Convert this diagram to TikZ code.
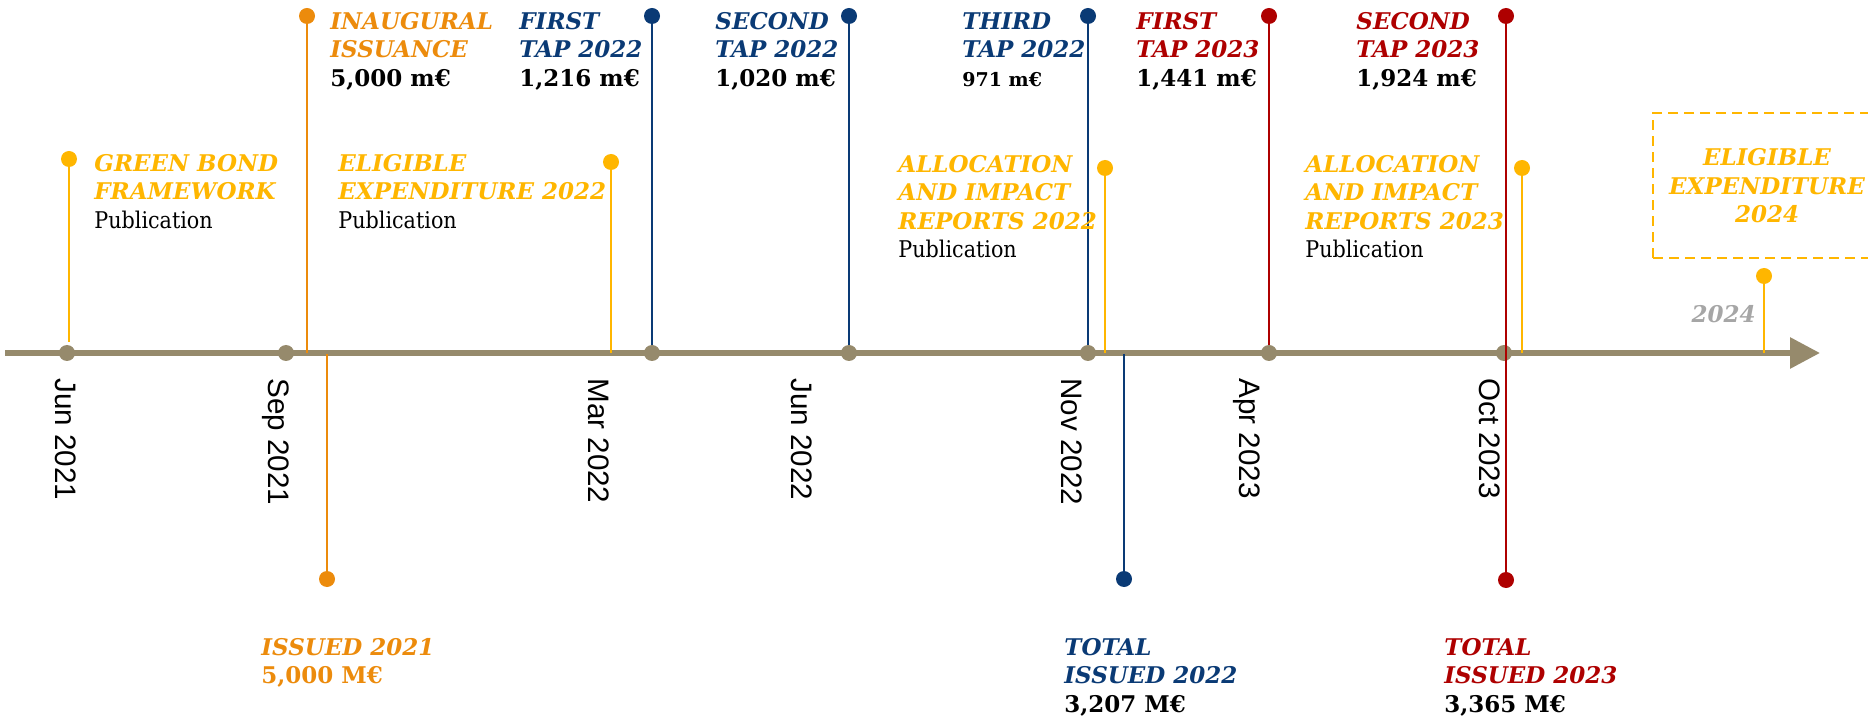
\documentclass[tikz,border=0pt]{standalone}
\usepackage{fontspec}
\setmainfont{DejaVu Serif Condensed}
\setsansfont{Liberation Sans}
\newfontfamily\ttlfont{DejaVu Serif}
\usetikzlibrary{arrows.meta}

\definecolor{axisgrey}{HTML}{968A6C}
\definecolor{gbyellow}{HTML}{FFB600}
\definecolor{gborange}{HTML}{EC8B0C}
\definecolor{gbblue}{HTML}{0A3A75}
\definecolor{gbred}{HTML}{AE0000}
\definecolor{yeargrey}{HTML}{A6A6A6}

\newcommand{\ttl}[2]{\textcolor{#1}{\ttlfont\bfseries\itshape #2}}
\newcommand{\amt}[1]{{\ttlfont\bfseries #1}}

\begin{document}
\begin{tikzpicture}[x=0.5pt,y=-0.5pt,
  axis/.style={line width=3pt, axisgrey, -{Triangle[length=15pt,width=15pt]}},
  axdot/.style={circle, fill=axisgrey, inner sep=0pt, minimum size=8pt},
  pin/.style={circle, inner sep=0pt, minimum size=8pt},
  stem/.style={line width=1.3pt},
  evtext/.style={anchor=north west, inner sep=0pt, align=left,
    font=\fontsize{11.5pt}{14.25pt}\selectfont},
  datelab/.style={rotate=-90, anchor=west, inner sep=0pt, text height=10.6pt,
    text depth=0pt, font=\sffamily\fontsize{14.8pt}{16pt}\selectfont}]
\useasboundingbox (0,0) rectangle (1868,721);
\clip (0,0) rectangle (1868,721);
% time axis
\node[axdot] (t1) at (67,353) {};
\node[axdot] (t2) at (286,353) {};
\node[axdot] (t3) at (652,353) {};
\node[axdot] (t4) at (849,353) {};
\node[axdot] (t5) at (1088,353) {};
\node[axdot] (t6) at (1269,353) {};
\node[axdot] (t7) at (1504,353) {};
\coordinate (a0) at (5,353);
\coordinate (a1) at (1820,353);
\draw[axis] (a0) -- (a1);
%
\node[datelab] (d1) at (66,378) {Jun 2021};
\node[datelab] (d2) at (279,378) {Sep 2021};
\node[datelab] (d3) at (599,378) {Mar 2022};
\node[datelab] (d4) at (802,378) {Jun 2022};
\node[datelab] (d5) at (1072,378) {Nov 2022};
\node[datelab] (d6) at (1250,378) {Apr 2023};
\node[datelab] (d7) at (1490,378) {Oct 2023};
%
% green bond framework
\node[pin, fill=gbyellow] (p1) at (69,159) {};
\coordinate (q1) at (69,342);
\draw[stem, gbyellow] (p1) -- (q1);
\node[evtext] (e1) at (94,154) {\ttl{gbyellow}{GREEN BOND}\\\ttl{gbyellow}{FRAMEWORK}\\Publication};
% inaugural issuance
\node[pin, fill=gborange] (p2) at (307,16) {};
\coordinate (q2) at (307,353);
\draw[stem, gborange] (p2) -- (q2);
\node[evtext] (e2) at (330,12) {\ttl{gborange}{INAUGURAL}\\\ttl{gborange}{ISSUANCE}\\\amt{5,000 m€}};
\coordinate (q3) at (327,354);
\node[pin, fill=gborange] (p3) at (327,579) {};
\draw[stem, gborange] (q3) -- (p3);
\node[evtext] (e3) at (261,638) {\ttl{gborange}{ISSUED 2021}\\\textcolor{gborange}{\amt{5,000 M€}}};
% eligible expenditure 2022
\node[pin, fill=gbyellow] (p4) at (611,162) {};
\coordinate (q4) at (611,353);
\draw[stem, gbyellow] (p4) -- (q4);
\node[evtext] (e4) at (338,154) {\ttl{gbyellow}{ELIGIBLE}\\\ttl{gbyellow}{EXPENDITURE 2022}\\Publication};
% taps 2022
\node[pin, fill=gbblue] (p5) at (652,16) {};
\draw[stem, gbblue] (p5) -- (t3);
\node[evtext] (e5) at (519,12) {\ttl{gbblue}{FIRST}\\\ttl{gbblue}{TAP 2022}\\\amt{1,216 m€}};
\node[pin, fill=gbblue] (p6) at (849,16) {};
\draw[stem, gbblue] (p6) -- (t4);
\node[evtext] (e6) at (715,12) {\ttl{gbblue}{SECOND}\\\ttl{gbblue}{TAP 2022}\\\amt{1,020 m€}};
\node[pin, fill=gbblue] (p7) at (1088,16) {};
\draw[stem, gbblue] (p7) -- (t5);
\node[evtext] (e7) at (962,12) {\ttl{gbblue}{THIRD}\\\ttl{gbblue}{TAP 2022}\\{\fontsize{9.5pt}{11pt}\selectfont\amt{971 m€}}};
% allocation and impact 2022
\node[pin, fill=gbyellow] (p8) at (1105,168) {};
\coordinate (q8) at (1105,353);
\draw[stem, gbyellow] (p8) -- (q8);
\node[evtext] (e8) at (898,155) {\ttl{gbyellow}{ALLOCATION}\\\ttl{gbyellow}{AND IMPACT}\\\ttl{gbyellow}{REPORTS 2022}\\Publication};
\coordinate (q9) at (1124,354);
\node[pin, fill=gbblue] (p9) at (1124,579) {};
\draw[stem, gbblue] (q9) -- (p9);
\node[evtext] (e9) at (1064,638) {\ttl{gbblue}{TOTAL}\\\ttl{gbblue}{ISSUED 2022}\\\amt{3,207 M€}};
% taps 2023
\node[pin, fill=gbred] (p10) at (1269,16) {};
\draw[stem, gbred] (p10) -- (t6);
\node[evtext] (e10) at (1136,12) {\ttl{gbred}{FIRST}\\\ttl{gbred}{TAP 2023}\\\amt{1,441 m€}};
\node[evtext] (e11) at (1356,12) {\ttl{gbred}{SECOND}\\\ttl{gbred}{TAP 2023}\\\amt{1,924 m€}};
% allocation and impact 2023
\node[pin, fill=gbyellow] (p12) at (1522,168) {};
\coordinate (q12) at (1522,353);
\draw[stem, gbyellow] (p12) -- (q12);
\node[evtext] (e12) at (1305,155) {\ttl{gbyellow}{ALLOCATION}\\\ttl{gbyellow}{AND IMPACT}\\\ttl{gbyellow}{REPORTS 2023}\\Publication};
\node[evtext] (e13) at (1444,638) {\ttl{gbred}{TOTAL}\\\ttl{gbred}{ISSUED 2023}\\\amt{3,365 M€}};
% second tap 2023 runs over the axis
\node[pin, fill=gbred] (p11) at (1506,16) {};
\node[pin, fill=gbred] (p13) at (1506,580) {};
\draw[stem, gbred] (p11) -- (p13);
% 2024
\node[pin, fill=gbyellow] (p14) at (1764,276) {};
\coordinate (q14) at (1764,353);
\draw[stem, gbyellow] (p14) -- (q14);
\node[anchor=base east, inner sep=0pt, yeargrey, font=\fontsize{11.5pt}{14.25pt}\selectfont\ttlfont\bfseries\itshape] (y24) at (1756,323) {2024};
\node[draw=gbyellow, line width=1pt, dash pattern=on 5pt off 3pt, minimum width=114pt, minimum height=72.5pt,
  align=center, text=gbyellow, font=\fontsize{11.5pt}{14.25pt}\selectfont\ttlfont\bfseries\itshape] (eb24) at (1767,186) {ELIGIBLE\\EXPENDITURE\\2024};
\end{tikzpicture}
\end{document}
